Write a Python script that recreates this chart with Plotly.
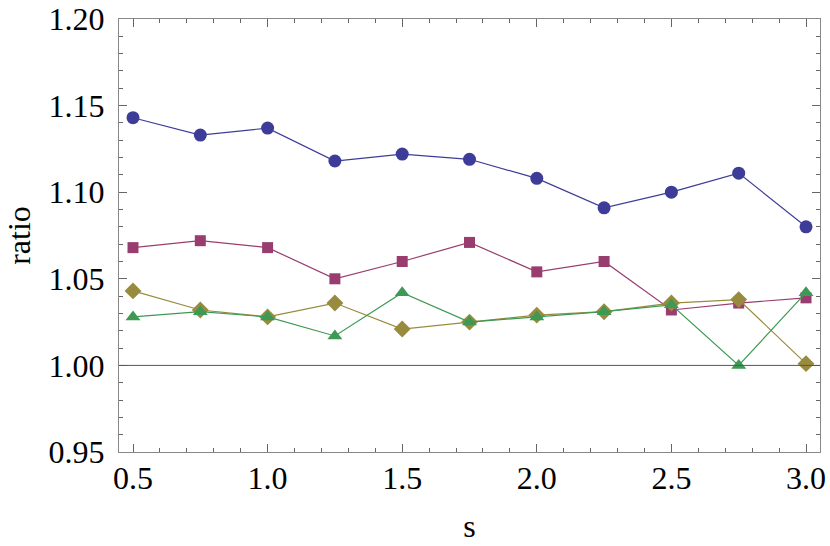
import plotly.graph_objects as go

# s values shared by all four series
s = [0.5, 0.75, 1.0, 1.25, 1.5, 1.75, 2.0, 2.25, 2.5, 2.75, 3.0]

ratio_circle = [1.143, 1.133, 1.137, 1.118, 1.122, 1.119, 1.108, 1.091, 1.100, 1.111, 1.080]
ratio_square = [1.068, 1.072, 1.068, 1.050, 1.060, 1.071, 1.054, 1.060, 1.032, 1.036, 1.039]
ratio_diamond = [1.043, 1.032, 1.028, 1.036, 1.021, 1.025, 1.029, 1.031, 1.036, 1.038, 1.001]
ratio_triangle = [1.028, 1.031, 1.028, 1.017, 1.042, 1.025, 1.028, 1.031, 1.035, 1.000, 1.042]

x_ticks = [0.5, 1.0, 1.5, 2.0, 2.5, 3.0]
y_ticks = [0.95, 1.00, 1.05, 1.10, 1.15, 1.20]

series = [
    (ratio_circle, "#3d3d99", "circle", 13),
    (ratio_square, "#993d71", "square", 11),
    (ratio_diamond, "#998b3d", "diamond", 13),
    (ratio_triangle, "#3d9954", "triangle-up", 13),
]

fig = go.Figure()

# reference line at ratio = 1
fig.add_hline(y=1.0, line=dict(color="#555555", width=1))

for ys, color, symbol, size in series:
    fig.add_trace(
        go.Scatter(
            x=s,
            y=ys,
            mode="lines+markers",
            line=dict(color=color, width=1.2),
            marker=dict(symbol=symbol, size=size, color=color),
            showlegend=False,
        )
    )

serif = "Liberation Serif, Times New Roman, serif"
frame = dict(
    showline=True, linecolor="#888888", linewidth=1, mirror="ticks",
    showgrid=False, zeroline=False, ticks="inside", ticklen=8, tickcolor="#666666",
    tickfont=dict(family=serif, size=32, color="black"),
    automargin=False, ticklabeloverflow="allow",
)

fig.update_xaxes(
    range=[0.448, 3.052],
    tickvals=x_ticks,
    ticktext=[f"{v:.1f}" for v in x_ticks],
    minor=dict(dtick=0.1, ticks="inside", ticklen=4, tickcolor="#666666"),
    ticklabelstandoff=-2,
    title=dict(text="s", standoff=19, font=dict(family=serif, size=32, color="black")),
    **frame,
)
fig.update_yaxes(
    range=[0.95, 1.20],
    tickvals=y_ticks,
    ticktext=[f"{v:.2f}" for v in y_ticks],
    minor=dict(dtick=0.01, ticks="inside", ticklen=4, tickcolor="#666666"),
    ticklabelstandoff=7,
    title=dict(text="ratio", standoff=8, font=dict(family=serif, size=32, color="black")),
    **frame,
)

fig.update_layout(
    width=830,
    height=546,
    margin=dict(l=119, r=10, t=19, b=94),
    paper_bgcolor="white",
    plot_bgcolor="white",
)

# drop the default 8px body margin so the figure fills the window exactly
fig.write_html(
    "out.html",
    config={"displayModeBar": False},
    post_script="document.body.style.margin = '0';",
)
